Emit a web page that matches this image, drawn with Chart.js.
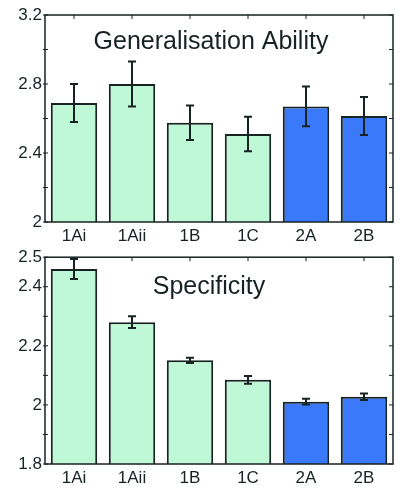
<!DOCTYPE html>
<html>
<head>
<meta charset="utf-8">
<script src="https://cdn.jsdelivr.net/npm/chart.js@4/dist/chart.umd.min.js"></script>
<style>
  body { margin: 0; background: #fff; }
  #wrap { position: relative; width: 400px; height: 489px; }
  .box { position: absolute; left: 0; width: 400px; }
</style>
</head>
<body>
<div id="wrap">
  <div class="box" style="top:0;height:244px"><canvas id="chart1"></canvas></div>
  <div class="box" style="top:244px;height:245px"><canvas id="chart2"></canvas></div>
</div>
<script>
const categories = ['1Ai', '1Aii', '1B', '1C', '2A', '2B'];

const genMeans = [2.69, 2.80, 2.575, 2.51, 2.67, 2.615];
const genErr = [0.11, 0.13, 0.10, 0.10, 0.115, 0.11];

const specMeans = [2.46, 2.28, 2.151, 2.085, 2.011, 2.028];
const specErr = [0.034, 0.02, 0.009, 0.013, 0.01, 0.011];

const genTitle = 'Generalisation Ability';
const specTitle = 'Specificity';

const green = 'rgb(190,248,215)';
const blue = 'rgb(58,122,250)';
const barColors = [green, green, green, green, blue, blue];
const ink = '#172222';
const fontFam = '"Liberation Sans", Arial, sans-serif';

// error bars, box frame, inward ticks and the title inside the plot
const extras = {
    id: 'extras',
    afterDatasetsDraw(chart, args, opts) {
        const ctx = chart.ctx;
        const x = chart.scales.x;
        const y = chart.scales.y;
        const a = chart.chartArea;
        ctx.save();
        ctx.strokeStyle = ink;
        ctx.lineWidth = 2;

        opts.means.forEach((m, i) => {
            const px = x.getPixelForValue(i);
            const hi = y.getPixelForValue(m + opts.err[i]);
            const lo = y.getPixelForValue(m - opts.err[i]);
            ctx.beginPath();
            ctx.moveTo(px, hi); ctx.lineTo(px, lo);
            ctx.moveTo(px - 4, hi); ctx.lineTo(px + 4, hi);
            ctx.moveTo(px - 4, lo); ctx.lineTo(px + 4, lo);
            ctx.stroke();
        });

        ctx.lineWidth = 1.5;
        ctx.strokeRect(a.left, a.top, a.right - a.left, a.bottom - a.top);

        ctx.lineWidth = 1;
        y.ticks.forEach(t => {
            const py = y.getPixelForValue(t.value);
            ctx.beginPath();
            ctx.moveTo(a.left - 2, py); ctx.lineTo(a.left + 3, py);
            ctx.moveTo(a.right, py); ctx.lineTo(a.right - 4, py);
            ctx.stroke();
        });
        categories.forEach((c, i) => {
            const px = x.getPixelForValue(i);
            ctx.beginPath();
            ctx.moveTo(px, a.top); ctx.lineTo(px, a.top + 4);
            ctx.stroke();
        });

        ctx.fillStyle = ink;
        ctx.font = '25px ' + fontFam;
        ctx.textAlign = 'center';
        ctx.textBaseline = 'middle';
        ctx.fillText(opts.title, opts.tx, a.top + opts.ty);
        ctx.restore();
    }
};

function makeConfig(means, err, title, yMin, yMax, step, showTick, pad, xHeight, tx, ty) {
    return {
        type: 'bar',
        data: {
            labels: categories,
            datasets: [{
                data: means,
                backgroundColor: barColors,
                borderColor: ink,
                borderWidth: 2,
                categoryPercentage: 0.8,
                barPercentage: 1.0,
            }]
        },
        options: {
            responsive: true,
            maintainAspectRatio: false,
            animation: false,
            layout: { padding: { top: pad, right: 7, left: 0, bottom: 0 } },
            plugins: {
                legend: { display: false },
                tooltip: { enabled: false },
                extras: { means: means, err: err, title: title, tx: tx, ty: ty }
            },
            scales: {
                x: {
                    grid: { display: false, drawTicks: false },
                    border: { display: false },
                    ticks: { color: ink, padding: 4, font: { family: fontFam, size: 17 } },
                    afterFit: s => { s.height = xHeight; }
                },
                y: {
                    min: yMin,
                    max: yMax,
                    grid: { display: false, drawTicks: false },
                    border: { display: false },
                    ticks: {
                        stepSize: step,
                        color: ink,
                        padding: 3,
                        font: { family: fontFam, size: 17 },
                        callback: function (val) {
                            return showTick(val) ? String(Math.round(val * 10) / 10) : '';
                        }
                    },
                    afterFit: s => { s.width = 45; }
                }
            }
        },
        plugins: [extras]
    };
}

let chart1 = new Chart(
    document.getElementById('chart1'),
    makeConfig(genMeans, genErr, genTitle, 2, 3.2, 0.2,
        v => Math.round(v * 10) % 4 === 0, 15, 22, 211, 27)
);
let chart2 = new Chart(
    document.getElementById('chart2'),
    makeConfig(specMeans, specErr, specTitle, 1.8, 2.5, 0.1,
        v => { const k = Math.round(v * 10); return k % 2 === 0 || k === 25; }, 13, 25, 209, 30)
);
</script>
</body>
</html>
